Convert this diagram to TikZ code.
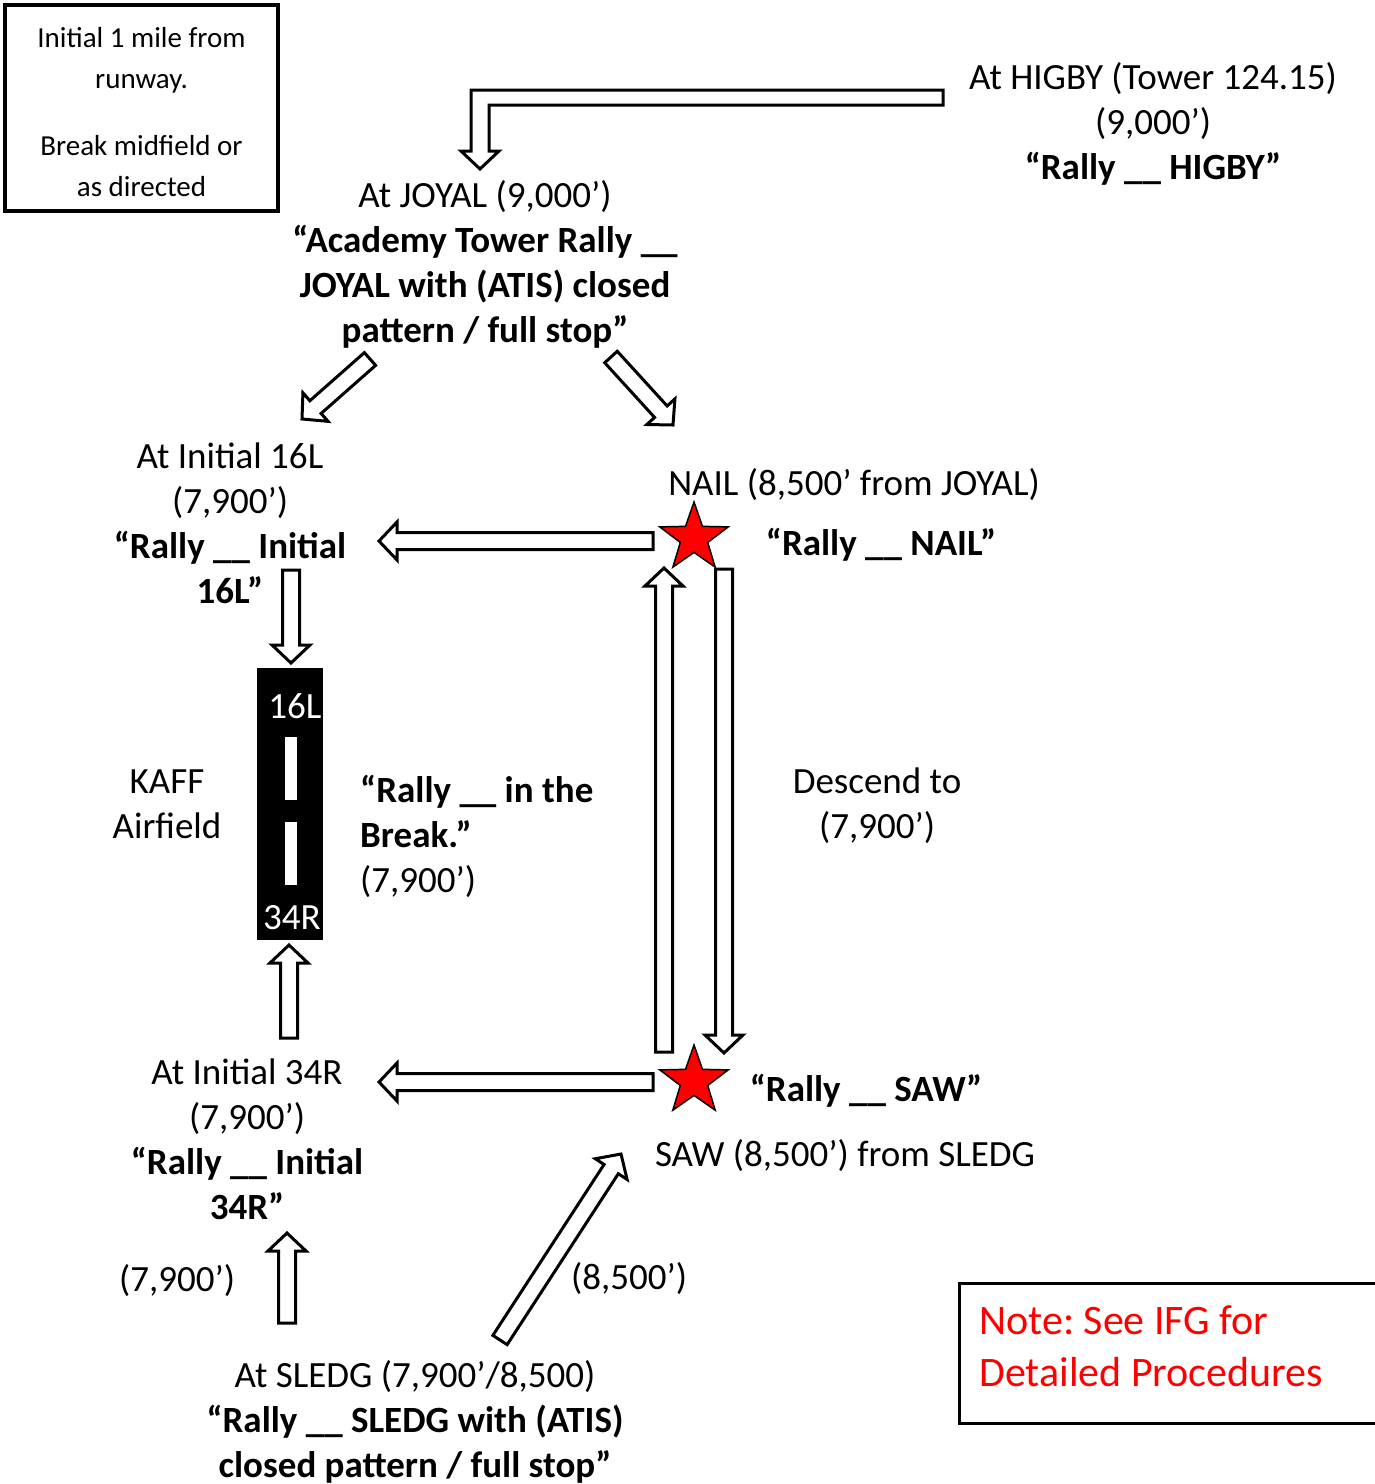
\documentclass[tikz,border=0pt]{standalone}
\usepackage{fontspec}
\setmainfont{Carlito}
\usetikzlibrary{calc,shapes.geometric}
\frenchspacing

\newcommand\arrshaft{8.5pt}
\newcommand\arrwing{19pt}
\newcommand\arrhead{18pt}
% hollow block arrow from #1 (tail) to #2 (tip)
\newcommand\blockarrow[2]{%
  \coordinate (neck) at ($(#2)!\arrhead!(#1)$);
  \draw[blockarrow]
    ($(#1)!\arrshaft!90:(#2)$) -- ($(neck)!\arrshaft!90:(#2)$)
    -- ($(neck)!\arrwing!90:(#2)$) -- (#2)
    -- ($(neck)!\arrwing!-90:(#2)$) -- ($(neck)!\arrshaft!-90:(#2)$)
    -- ($(#1)!\arrshaft!-90:(#2)$) -- cycle;
}

\tikzset{
  lbl/.style={align=center, inner sep=0pt, font=\fontsize{37}{45}\selectfont},
  blockarrow/.style={draw=black, line width=3pt, fill=white, line join=miter},
  rallystar/.style={star, star points=5, star point ratio=2.5, minimum size=72pt,
    inner sep=0pt, fill=red, draw=black, line width=1.5pt},
}

\begin{document}
\begin{tikzpicture}[x=1pt, y=-1pt]
\useasboundingbox (0,0) rectangle (1375,1484);

% boxed notes
\node[draw, line width=4.5pt, minimum width=273pt, minimum height=206pt, inner sep=0pt] (initbox) at (141.5,108) {};
\node[align=center, inner sep=0pt, font=\fontsize{29}{41}\selectfont] (inittxt) at (141.5,112)
  {Initial 1 mile from\\runway.\\[26pt]Break midfield or\\as directed};
\node[draw, line width=2.5pt, anchor=north west, minimum width=440pt, minimum height=140pt,
  inner sep=0pt] (notebox) at (958,1282) {};
\node[anchor=west, align=left, inner sep=0pt, text=red,
  font=\fontsize{42}{52}\selectfont] (note) at (979,1346)
  {Note: See IFG for\\Detailed Procedures};

% runway
\node[fill=black, minimum width=66pt, minimum height=272pt, inner sep=0pt] (runway) at (290,804) {};
\fill[white] (285,737) rectangle (297,800);
\fill[white] (285,822) rectangle (297,885);
\node[lbl, text=white] (rwy16) at (295,706) {16L};
\node[lbl, text=white] (rwy34) at (292,918) {34R};

% reporting points
\node[rallystar] (nail) at (694,538) {};
\node[rallystar] (saw) at (694,1081) {};

% labels
\node[lbl] (higby) at (1153,124) {At HIGBY (Tower 124.15)\\(9,000’)\\\textbf{“Rally \_\_ HIGBY”}};
\node[lbl] (joyal) at (485,264) {At JOYAL (9,000’)\\\textbf{“Academy Tower Rally \_\_}\\
  \textbf{JOYAL with (ATIS) closed}\\\textbf{pattern / full stop”}};
\node[lbl] (init16) at (230,523) {At Initial 16L\\(7,900’)\\\textbf{“Rally \_\_ Initial}\\\textbf{16L”}};
\node[lbl] (nailtxt) at (854,485) {NAIL (8,500’ from JOYAL)};
\node[lbl] (nailcall) at (881,545) {\textbf{“Rally \_\_ NAIL”}};
\node[lbl] (kaff) at (167,804) {KAFF\\Airfield};
\node[lbl, anchor=west, align=left] (breakcall) at (360,836)
  {\textbf{“Rally \_\_ in the}\\\textbf{Break.”}\\(7,900’)};
\node[lbl] (descend) at (877,806) {Descend to\\(7,900’)};
\node[lbl] (init34) at (247,1139) {At Initial 34R\\(7,900’)\\\textbf{“Rally \_\_ Initial}\\\textbf{34R”}};
\node[lbl] (sawcall) at (866,1091) {\textbf{“Rally \_\_ SAW”}};
\node[lbl] (sawtxt) at (845,1156) {SAW (8,500’) from SLEDG};
\node[lbl] (alt79) at (177,1281) {(7,900’)};
\node[lbl] (alt85) at (629,1279) {(8,500’)};
\node[lbl] (sledg) at (415,1422) {At SLEDG (7,900’/8,500)\\\textbf{“Rally \_\_ SLEDG with (ATIS)}\\
  \textbf{closed pattern / full stop”}};

% arrow ends
\coordinate (higby-w) at (943,97.5);
\coordinate (bend) at (480,97.5);
\coordinate (joyal-n) at (480,169);
\coordinate (joyal-sw) at (370,359);
\coordinate (init16-ne) at (302,419);
\coordinate (joyal-se) at (611,357);
\coordinate (nail-nw) at (673,425);
\coordinate (nail-w) at (653,541);
\coordinate (init16-e) at (379,541);
\coordinate (init16-s) at (291,570);
\coordinate (runway-n) at (291,663);
\coordinate (init34-n) at (289,1038);
\coordinate (runway-s) at (289,945);
\coordinate (saw-w) at (653,1082);
\coordinate (init34-e) at (379,1082);
\coordinate (sledg-n) at (287,1323);
\coordinate (init34-s) at (287,1233);
\coordinate (sledg-ne) at (500,1340);
\coordinate (saw-sw) at (621,1154);
\coordinate (saw-up) at (664,1052);
\coordinate (nail-down) at (664,568);
\coordinate (nail-s) at (724,569);
\coordinate (saw-n) at (724,1053);

% HIGBY to JOYAL
\draw[blockarrow] ($(higby-w)+(0,-7.5)$) -- ($(bend)+(-9,-7.5)$) -- ($(joyal-n)+(-9,-18)$)
  -- ($(joyal-n)+(-19,-18)$) -- (joyal-n) -- ($(joyal-n)+(19,-18)$) -- ($(joyal-n)+(9,-18)$)
  -- ($(bend)+(9,7.5)$) -- ($(higby-w)+(0,7.5)$) -- cycle;

\blockarrow{joyal-sw}{init16-ne}
\blockarrow{joyal-se}{nail-nw}
\blockarrow{nail-w}{init16-e}
\blockarrow{init16-s}{runway-n}
\blockarrow{init34-n}{runway-s}
\blockarrow{saw-w}{init34-e}
\blockarrow{sledg-n}{init34-s}
\blockarrow{sledg-ne}{saw-sw}
\blockarrow{saw-up}{nail-down}
\blockarrow{nail-s}{saw-n}
\end{tikzpicture}
\end{document}
